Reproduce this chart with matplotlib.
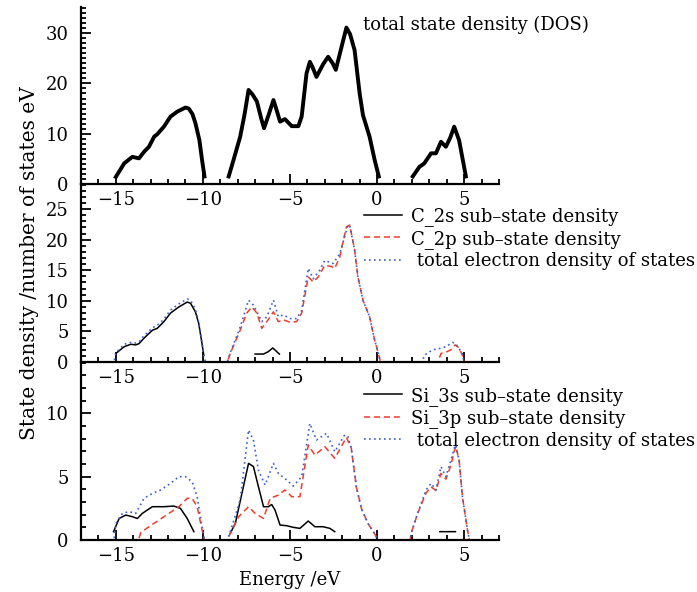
import numpy as np
import matplotlib.pyplot as plt
from matplotlib.ticker import MultipleLocator

plt.rcParams['font.family'] = ['DejaVu Serif']
plt.rcParams['axes.unicode_minus'] = True

nan = np.nan

# total state density (top panel), NaN separates the bands
e_tot = [-15, -14.52, -14.05, -13.67, -13.38, -13.1, -12.8, -12.62, -12.24, -11.86, -11.47, -11.0, -10.81,
         -10.6, -10.43, -10.2, -10.05, -9.91, nan,
         -8.52, -8.24, -7.86, -7.6, -7.38, -7.15, -6.9, -6.65, -6.49, -6.25, -5.95, -5.75, -5.57, -5.29, -4.9,
         -4.52, -4.33, -4.05, -3.86, -3.7, -3.48, -3.1, -2.81, -2.55, -2.37, -1.95, -1.76, -1.55, -1.29, -1.0,
         -0.81, -0.43, -0.14, 0.1, nan,
         2.05, 2.43, 2.71, 3.1, 3.38, 3.67, 3.95, 4.2, 4.43, 4.71, 5.1]
dos_tot = [1.4, 4.1, 5.4, 5.1, 6.4, 7.4, 9.4, 9.9, 11.4, 13.4, 14.4, 15.2, 15.0,
           13.9, 12.1, 8.7, 4.8, 1.5, nan,
           1.5, 4.8, 9.4, 14.0, 18.7, 17.8, 16.4, 13.0, 11.1, 13.5, 16.7, 14.5, 12.4, 12.9, 11.5,
           11.5, 13.4, 22.0, 24.3, 23.2, 21.3, 23.8, 25.3, 24.0, 22.7, 28.5, 31.1, 29.8, 26.6, 18.0,
           13.7, 9.4, 4.8, 1.5, nan,
           1.5, 3.4, 4.1, 6.1, 6.1, 8.4, 7.4, 9.2, 11.4, 8.7, 1.5]

# C partial densities (middle panel)
e_c2s = [-15, -14.52, -14.14, -13.86, -13.67, -13.38, -12.9, -12.62, -12.24, -11.86, -11.38, -10.9, -10.71,
         -10.43, -10.24, -10.05, -9.95, nan,
         -7.0, -6.52, -6.24, -5.99, -5.76, -5.61]
c2s = [1.4, 2.5, 2.9, 2.8, 3.0, 3.9, 5.2, 5.5, 6.6, 8.0, 9.0, 9.8, 9.6,
       8.2, 6.3, 3.0, 1.1, nan,
       1.3, 1.3, 1.7, 2.3, 1.7, 1.3]

e_c2p = [-17, -8.6, -8.43, -7.86, -7.48, -7.19, -6.9, -6.62, -6.33, -5.95, -5.67, -5.38, -5.0, -4.62, -4.33,
         -3.95, -3.67, -3.38, -3.0, -2.62, -2.43, -2.14, -1.76, -1.57, -1.29, -1.1, -0.81, -0.43, -0.14, 0.1,
         0.2, 3.5, 3.67, 3.95, 4.24, 4.48, 4.71, 4.9, 5.0, 7]
c2p = [0, 0, 1.4, 5.2, 8.0, 9.0, 8.0, 5.5, 6.6, 8.2, 6.6, 6.9, 6.5, 6.6, 8.0,
       13.9, 13.1, 13.9, 15.8, 15.6, 15.3, 17.2, 22.1, 22.4, 18.3, 13.9, 10.1, 7.4, 3.6, 1.1,
       0, 0, 1.4, 1.6, 2.0, 2.8, 2.3, 1.1, 0, 0]

e_ctot = [-17, -15.1, -15, -14.52, -14.14, -13.86, -13.67, -13.38, -12.9, -12.62, -12.24, -11.86, -11.38,
          -10.9, -10.71, -10.43, -10.24, -10.05, -9.95, -9.85, -8.6, -8.43, -7.86, -7.38, -7.1, -6.62, -6.33,
          -5.95, -5.67, -5.38, -5.0, -4.62, -4.33, -3.95, -3.67, -3.29, -3.0, -2.52, -2.14, -1.67, -1.57,
          -1.29, -1.1, -0.81, -0.43, -0.14, 0.1, 0.2, 2.6, 2.71, 3.19, 3.57, 3.95, 4.33, 4.52, 4.75, 4.9,
          5.0, 7]
ctot = [0, 0, 1.5, 2.9, 3.2, 3.1, 3.3, 4.3, 5.6, 6.0, 7.0, 8.5, 9.5,
        10.3, 10.1, 8.6, 6.5, 3.1, 1.1, 0, 0, 1.5, 5.7, 10.1, 9.3, 6.6, 7.4,
        10.1, 7.4, 7.7, 7.1, 7.1, 8.4, 15.3, 13.6, 15.0, 16.6, 16.1, 17.7, 22.4, 22.3,
        18.3, 13.9, 10.1, 7.4, 3.6, 1.1, 0, 0, 1.1, 2.0, 2.2, 2.5, 3.2, 3.0, 2.0, 1.3,
        0, 0]

# Si partial densities (bottom panel)
e_si3s = [-15.13, -14.81, -14.43, -14.05, -13.76, -13.48, -13.19, -12.9, -12.24, -11.67, -11.29, -10.9,
          -10.52, nan,
          -8.43, -8.14, -7.76, -7.38, -7.1, -6.81, -6.52, -6.24, -6.05, -5.86, -5.57, -5.19, -4.81, -4.43,
          -3.95, -3.57, -3.1, -2.71, -2.43, nan,
          3.6, 4.5]
si3s = [0.66, 1.7, 1.97, 1.84, 1.7, 2.1, 2.37, 2.63, 2.63, 2.68, 2.5, 1.7,
        0.66, nan,
        0.53, 1.3, 3.68, 6.05, 5.8, 4.2, 2.63, 2.63, 2.8, 2.37, 1.18, 1.13, 1.0, 0.92,
        1.5, 1.05, 1.05, 0.92, 0.66, nan,
        0.66, 0.66]

e_si3p = [-17, -13.7, -13.57, -13.1, -12.52, -11.95, -11.38, -10.9, -10.62, -10.33, -10.05, -9.91, -8.6,
          -8.43, -7.95, -7.38, -7.0, -6.52, -6.14, -5.67, -5.29, -4.9, -4.43, -3.95, -3.57, -3.0, -2.43,
          -1.76, -1.48, -1.19, -0.9, -0.52, -0.14, 0.05, 1.9, 1.95, 2.33, 2.81, 3.1, 3.38, 3.67, 3.95, 4.24,
          4.43, 4.52, 4.71, 4.9, 5.19, 5.3, 7]
si3p = [0, 0, 0.58, 1.05, 1.58, 2.1, 2.63, 3.29, 3.29, 2.63, 0.8, 0, 0,
        0.53, 1.84, 2.63, 2.1, 1.7, 3.29, 3.55, 3.95, 3.42, 3.42, 7.5, 6.7, 7.37, 6.45,
        8.1, 7.24, 4.2, 2.5, 1.3, 0.5, 0, 0, 0.5, 2.1, 3.7, 4.2, 3.9, 5.26, 4.8, 5.9,
        7.0, 7.4, 6.3, 3.42, 0.8, 0, 0]

e_sitot = [-17, -15.1, -15, -14.62, -14.24, -13.86, -13.38, -12.9, -12.43, -11.86, -11.38, -11.0, -10.62,
           -10.33, -10.05, -9.91, -8.6, -8.43, -7.86, -7.38, -7.1, -6.81, -6.43, -5.95, -5.67, -5.19, -4.81,
           -4.33, -3.86, -3.48, -2.9, -2.43, -1.86, -1.67, -1.48, -1.19, -0.9, -0.52, -0.14, 0.05, 1.9,
           1.95, 2.33, 2.81, 3.1, 3.38, 3.67, 3.95, 4.24, 4.43, 4.52, 4.71, 4.9, 5.19, 5.3, 7]
sitot = [0, 0, 1.3, 2.1, 2.24, 2.1, 3.29, 3.68, 3.95, 4.47, 5.0, 5.0, 4.6,
         3.42, 1.05, 0, 0, 0.66, 3.16, 8.68, 7.9, 5.5, 4.34, 6.05, 5.26, 4.74, 4.26,
         5.0, 9.2, 7.9, 8.42, 6.97, 8.3, 8.16, 7.24, 4.2, 2.5, 1.3, 0.5, 0, 0,
         0.5, 2.1, 3.95, 4.47, 3.95, 5.79, 5.0, 6.3, 7.24, 7.5, 6.3, 3.42, 0.8, 0, 0]

red = '#f03c2c'
blue = '#3a5fd0'

fig = plt.figure(figsize=(6.97, 5.92), dpi=100)
left, width = 0.1162, 0.5997
ax1 = fig.add_axes([left, 0.6892, width, 0.2990])
ax2 = fig.add_axes([left, 0.3885, width, 0.3007])
ax3 = fig.add_axes([left, 0.0878, width, 0.3007])


def style(ax, ymax, ymajor):
    ax.set_xlim(-17, 7)
    ax.set_ylim(0, ymax)
    for s in ['top', 'right']:
        ax.spines[s].set_visible(False)
    for s in ['left', 'bottom']:
        ax.spines[s].set_linewidth(1.6)
    ax.xaxis.set_major_locator(MultipleLocator(5))
    ax.xaxis.set_minor_locator(MultipleLocator(1))
    ax.yaxis.set_major_locator(MultipleLocator(ymajor))
    ax.yaxis.set_minor_locator(MultipleLocator(1))
    ax.tick_params(which='both', direction='in', width=1.3, labelsize=13)
    ax.tick_params(which='major', length=7)
    ax.tick_params(which='minor', length=3.5)
    ax.tick_params(axis='y', pad=9)
    ax.tick_params(axis='x', pad=5)
    ax.patch.set_alpha(0)


ax1.plot(e_tot, dos_tot, color='black', lw=2.8, solid_joinstyle='round')
style(ax1, 35.2, 10)
fig.text(0.521, 0.958, 'total state density (DOS)', fontsize=13, va='center')

ax2.plot(e_c2s, c2s, color='black', lw=1.1, label='C_2s sub–state density')
ax2.plot(e_c2p, c2p, color=red, lw=1.1, ls=(0, (4, 2.5)), label='C_2p sub–state density')
ax2.plot(e_ctot, ctot, color=blue, lw=1.2, ls=(0, (1, 2)), label=' total electron density of states')
style(ax2, 29.1, 5)

ax3.plot(e_si3s, si3s, color='black', lw=1.1, label='Si_3s sub–state density')
ax3.plot(e_si3p, si3p, color=red, lw=1.1, ls=(0, (4, 2.5)), label='Si_3p sub–state density')
ax3.plot(e_sitot, sitot, color=blue, lw=1.2, ls=(0, (1, 2)), label=' total electron density of states')
style(ax3, 14.05, 5)
ax3.set_xlabel('Energy /eV', fontsize=13, labelpad=4)

for ax, ytop in [(ax2, 0.650), (ax3, 0.347)]:
    ax.legend(loc='upper left', bbox_to_anchor=(0.522, ytop), bbox_transform=fig.transFigure,
              frameon=False, fontsize=13, handlelength=2.1, handletextpad=0.5,
              labelspacing=0.2, borderpad=0, borderaxespad=0)

fig.text(0.043, 0.555, 'State density /number of states eV', rotation=90, fontsize=14.5,
         va='center', ha='center')

fig.savefig('out.png', dpi=100)
